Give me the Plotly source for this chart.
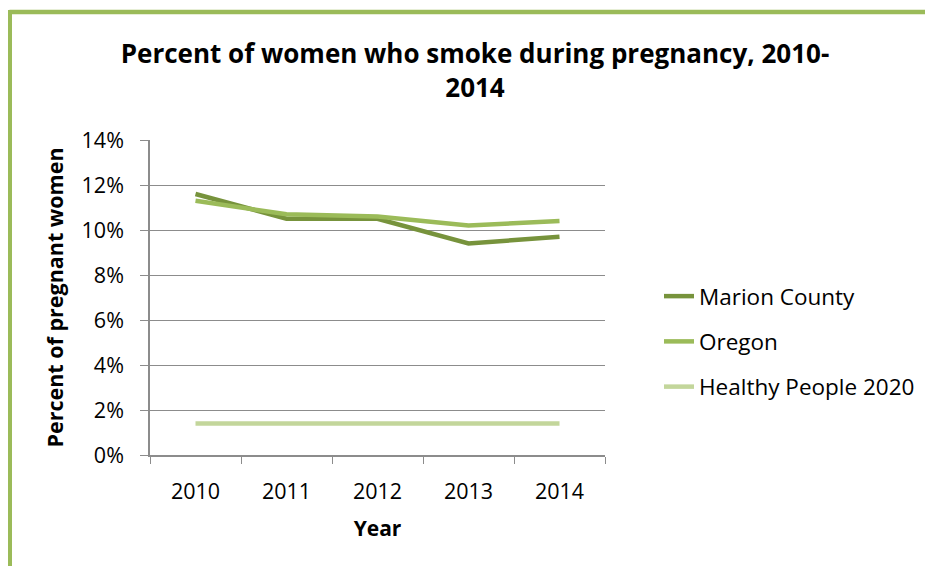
import plotly.graph_objects as go

years = ["2010", "2011", "2012", "2013", "2014"]
marion = [11.6, 10.5, 10.5, 9.4, 9.7]
oregon = [11.3, 10.7, 10.6, 10.2, 10.4]
healthy_people = [1.4, 1.4, 1.4, 1.4, 1.4]

FONT = "'Open Sans', 'Noto Sans', sans-serif"
GRID = "#8c8c8c"

fig = go.Figure()
fig.add_trace(go.Scatter(x=years, y=marion, mode="lines", name="Marion County",
                         line=dict(color="#77933C", width=4.5)))
fig.add_trace(go.Scatter(x=years, y=oregon, mode="lines", name="Oregon",
                         line=dict(color="#9BBB59", width=4.5)))
fig.add_trace(go.Scatter(x=years, y=healthy_people, mode="lines", name="Healthy People 2020",
                         line=dict(color="#C3D69B", width=4.5)))

# page has an 8px body margin, so figure coords = page coords - 8
W, H = 933, 566
OFF = 8
L, T = 150 - OFF, 140 - OFF
R = W - (605 - OFF)
B = H - (455 - OFF)
pw, ph = W - L - R, H - T - B


def px(x):
    return (x - OFF - L) / pw


def py(y):
    return (H - B - (y - OFF)) / ph


# green frame (top and left edges)
fig.add_shape(type="line", xref="paper", yref="paper",
              x0=px(9.5), x1=px(W + 20), y0=py(12), y1=py(12),
              line=dict(color="#9BBB59", width=4.5))
fig.add_shape(type="line", xref="paper", yref="paper",
              x0=px(9.5), x1=px(9.5), y0=py(10), y1=py(H + 20),
              line=dict(color="#9BBB59", width=5))

fig.update_layout(
    width=W, height=H,
    margin=dict(l=L, r=R, t=T, b=B),
    paper_bgcolor="white", plot_bgcolor="white",
    font=dict(family=FONT, color="#000000", size=21),
    title=dict(text="<b>Percent of women who smoke during pregnancy, 2010-<br>2014</b>",
               x=px(475), xanchor="center", xref="paper",
               y=1 - (63 - OFF) / H, yanchor="top",
               font=dict(size=26)),
    legend=dict(x=px(659), y=py(275), xanchor="left", yanchor="top",
                font=dict(size=22.5), tracegroupgap=13, traceorder="grouped",
                bgcolor="rgba(0,0,0,0)"),
    showlegend=True,
)
for i, tr in enumerate(fig.data):
    tr.legendgroup = str(i)

fig.update_xaxes(
    type="category", range=[-0.5, 4.5],
    title=dict(text="<b>Year</b>", font=dict(size=21), standoff=18),
    showline=True, linecolor=GRID, linewidth=1.5,
    ticks="outside", tickson="boundaries", ticklen=7, tickcolor=GRID,
    ticklabelstandoff=16,
    showgrid=False, tickfont=dict(size=21.5),
)
fig.update_yaxes(
    range=[0, 14], dtick=2, tickformat=".0f", ticksuffix="%",
    title=dict(text="<b>Percent of pregnant women</b>", font=dict(size=21.5), standoff=12),
    showline=True, linecolor=GRID, linewidth=1.5,
    ticks="outside", ticklen=8, tickcolor=GRID,
    ticklabelstandoff=12,
    showgrid=True, gridcolor=GRID, gridwidth=1.3, zeroline=False,
    tickfont=dict(size=21.5),
)

fig.write_html("out.html")
